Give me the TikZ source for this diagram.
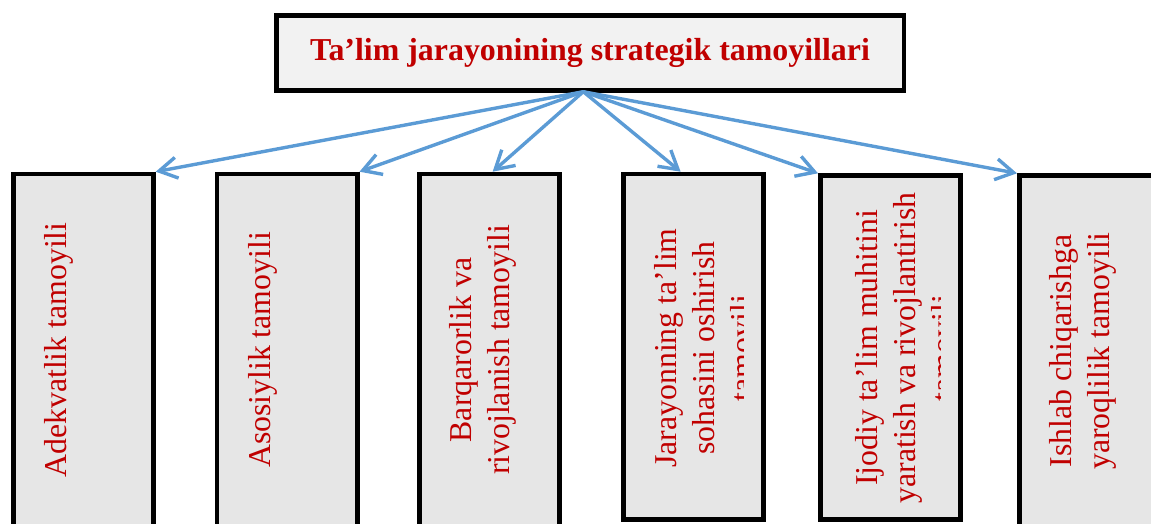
\documentclass[tikz,border=0pt]{standalone}
\usepackage{fontspec}
\setmainfont{Liberation Serif}
\usetikzlibrary{arrows.meta}
\definecolor{tred}{HTML}{C00000}
\definecolor{tblue}{HTML}{5B9BD5}
\definecolor{topfill}{HTML}{F2F2F2}
\definecolor{boxfill}{HTML}{E6E6E6}
\begin{document}
\begin{tikzpicture}[x=1pt,y=-1pt,
  box/.style={draw=black, line width=4.5pt, fill=boxfill, minimum width=140.2pt, inner sep=0pt},
  topbox/.style={draw=black, line width=4.5pt, fill=topfill, minimum width=627.5pt, minimum height=74.9pt, inner sep=0pt, text=tred, font=\fontsize{31.9}{38}\selectfont\bfseries},
  lbl/.style={rotate=90, anchor=base, inner sep=0pt, text=tred, font=\fontsize{31.8}{38}\selectfont},
  arr/.style={draw=tblue, line width=3.4pt, line cap=round, -{Straight Barb[length=18pt,width=21pt]}}
]
\useasboundingbox (0,0) rectangle (1151,523);
\clip (0,0) rectangle (1151,523);
% top box
\node[topbox] (t) at (590,53) {Ta’lim jarayonining strategik tamoyillari};
% lower boxes
\node[box, minimum height=365pt]   (b1) at (83.35,356.45) {};
\node[box, minimum height=365pt]   (b2) at (287.15,356.45) {};
\node[box, minimum height=365pt]   (b3) at (489.35,356.45) {};
\node[box, minimum height=345.5pt] (b4) at (693.35,346.7) {};
\node[box, minimum height=343.9pt] (b5) at (890.35,347.5) {};
\node[box, minimum height=365pt]   (b6) at (1089.35,358.05) {};
% labels
\node[lbl] (l1) at (66,350) {Adekvatlik tamoyili};
\node[lbl] (l2) at (270,350) {Asosiylik tamoyili};
\node[lbl] (l3a) at (471.7,350) {Barqarorlik va};
\node[lbl] (l3b) at (509.7,350) {rivojlanish tamoyili};
\begin{scope}
  \clip (621,171.7) rectangle (743,521.7);
  \node[lbl] (l4a) at (676,348) {Jarayonning ta’lim};
  \node[lbl] (l4b) at (714,348) {sohasini oshirish};
  \node[lbl] (l4c) at (752,348) {tamoyili};
\end{scope}
\begin{scope}
  \clip (818,171.7) rectangle (940,521.7);
  \node[lbl] (l5a) at (877,348) {Ijodiy ta’lim muhitini};
  \node[lbl] (l5b) at (915,348) {yaratish va rivojlantirish};
  \node[lbl] (l5c) at (953,348) {tamoyili};
\end{scope}
\node[lbl] (l6a) at (1071.7,351) {Ishlab chiqarishga};
\node[lbl] (l6b) at (1109.7,351) {yaroqlilik tamoyili};
% connectors
\coordinate (o) at (583.3,91.7);
\draw[arr] (o) -- (b1.north east);
\draw[arr] (o) -- (b2.north east);
\draw[arr] (o) -- ([xshift=3.3pt]b3.north);
\draw[arr] (o) -- ([xshift=-12.7pt]b4.north);
\draw[arr] (o) -- (b5.north west);
\draw[arr] (o) -- (b6.north west);
\end{tikzpicture}
\end{document}
